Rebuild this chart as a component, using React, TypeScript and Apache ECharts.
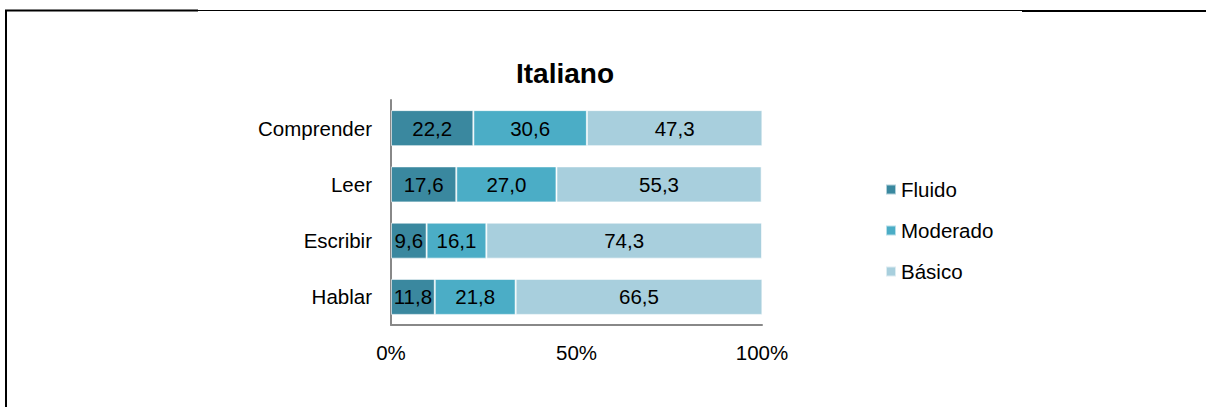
import React, { useEffect, useRef } from "react";
import * as echarts from "echarts";

const categories = ["Comprender", "Leer", "Escribir", "Hablar"];
const fluido = [22.2, 17.6, 9.6, 11.8];
const moderado = [30.6, 27.0, 16.1, 21.8];
const basico = [47.3, 55.3, 74.3, 66.5];
const seriesNames = ["Fluido", "Moderado", "Básico"];
const colors = ["#3a889f", "#4badc6", "#a8cfdd"];
const xTicks = [0, 50, 100];

export default function App() {
  const ref = useRef<HTMLDivElement>(null);
  useEffect(() => {
    document.body.style.margin = "0";
    const chart = echarts.init(ref.current!, null, { renderer: "svg" });
    const font = "'Liberation Sans', Arial, sans-serif";
    const fs = 20.5;
    const fmt = (p: any) => Number(p.value).toFixed(1).replace(".", ",");
    const mk = (name: string, data: number[], color: string) => ({
      name,
      type: "bar",
      stack: "total",
      data,
      barWidth: 36,
      itemStyle: { color, borderColor: "rgba(255,255,255,0.6)", borderWidth: 1 },
      label: {
        show: true,
        position: "inside",
        formatter: fmt,
        color: "#000",
        fontSize: fs,
        fontFamily: font,
      },
    });
    chart.setOption({
      animation: false,
      backgroundColor: "#fff",
      title: {
        text: "Italiano",
        left: 516,
        top: 59,
        textStyle: { fontSize: 28, fontWeight: "bold", color: "#000", fontFamily: font },
        padding: 0,
      },
      legend: {
        orient: "vertical",
        left: 880,
        top: 174,
        padding: 5,
        itemWidth: 10,
        itemHeight: 10,
        itemGap: 20,
        data: seriesNames,
        icon: "rect",
        textStyle: { fontSize: fs, color: "#000", fontFamily: font },
      },
      grid: { left: 391, right: 444, top: 100, bottom: 82, containLabel: false },
      xAxis: {
        type: "value",
        min: 0,
        max: 100,
        interval: 50,
        axisLine: { show: true, lineStyle: { color: "#888", width: 2 } },
        axisTick: { show: false },
        splitLine: { show: false },
        axisLabel: {
          margin: 17,
          fontSize: fs,
          color: "#000",
          fontFamily: font,
          formatter: (v: number) => (xTicks.includes(v) ? v + "%" : ""),
        },
      },
      yAxis: {
        type: "category",
        inverse: true,
        data: categories,
        axisLine: { show: true, lineStyle: { color: "#888", width: 2 } },
        axisTick: { show: false },
        axisLabel: { margin: 19, fontSize: fs, color: "#000", fontFamily: font },
      },
      series: [
        mk(seriesNames[0], fluido, colors[0]),
        mk(seriesNames[1], moderado, colors[1]),
        mk(seriesNames[2], basico, colors[2]),
      ],
      graphic: [
        { type: "line", shape: { x1: 6, y1: 10, x2: 6, y2: 407 }, style: { stroke: "#000", lineWidth: 2 } },
        { type: "line", shape: { x1: 5, y1: 10.5, x2: 198, y2: 10.5 }, style: { stroke: "#000", lineWidth: 2 } },
        { type: "line", shape: { x1: 198, y1: 10.5, x2: 1022, y2: 10.5 }, style: { stroke: "#000", lineWidth: 1 } },
        { type: "line", shape: { x1: 1022, y1: 11, x2: 1206, y2: 11 }, style: { stroke: "#000", lineWidth: 2 } },
      ],
    });
    return () => chart.dispose();
  }, []);
  return <div ref={ref} style={{ width: 1206, height: 407 }} />;
}
